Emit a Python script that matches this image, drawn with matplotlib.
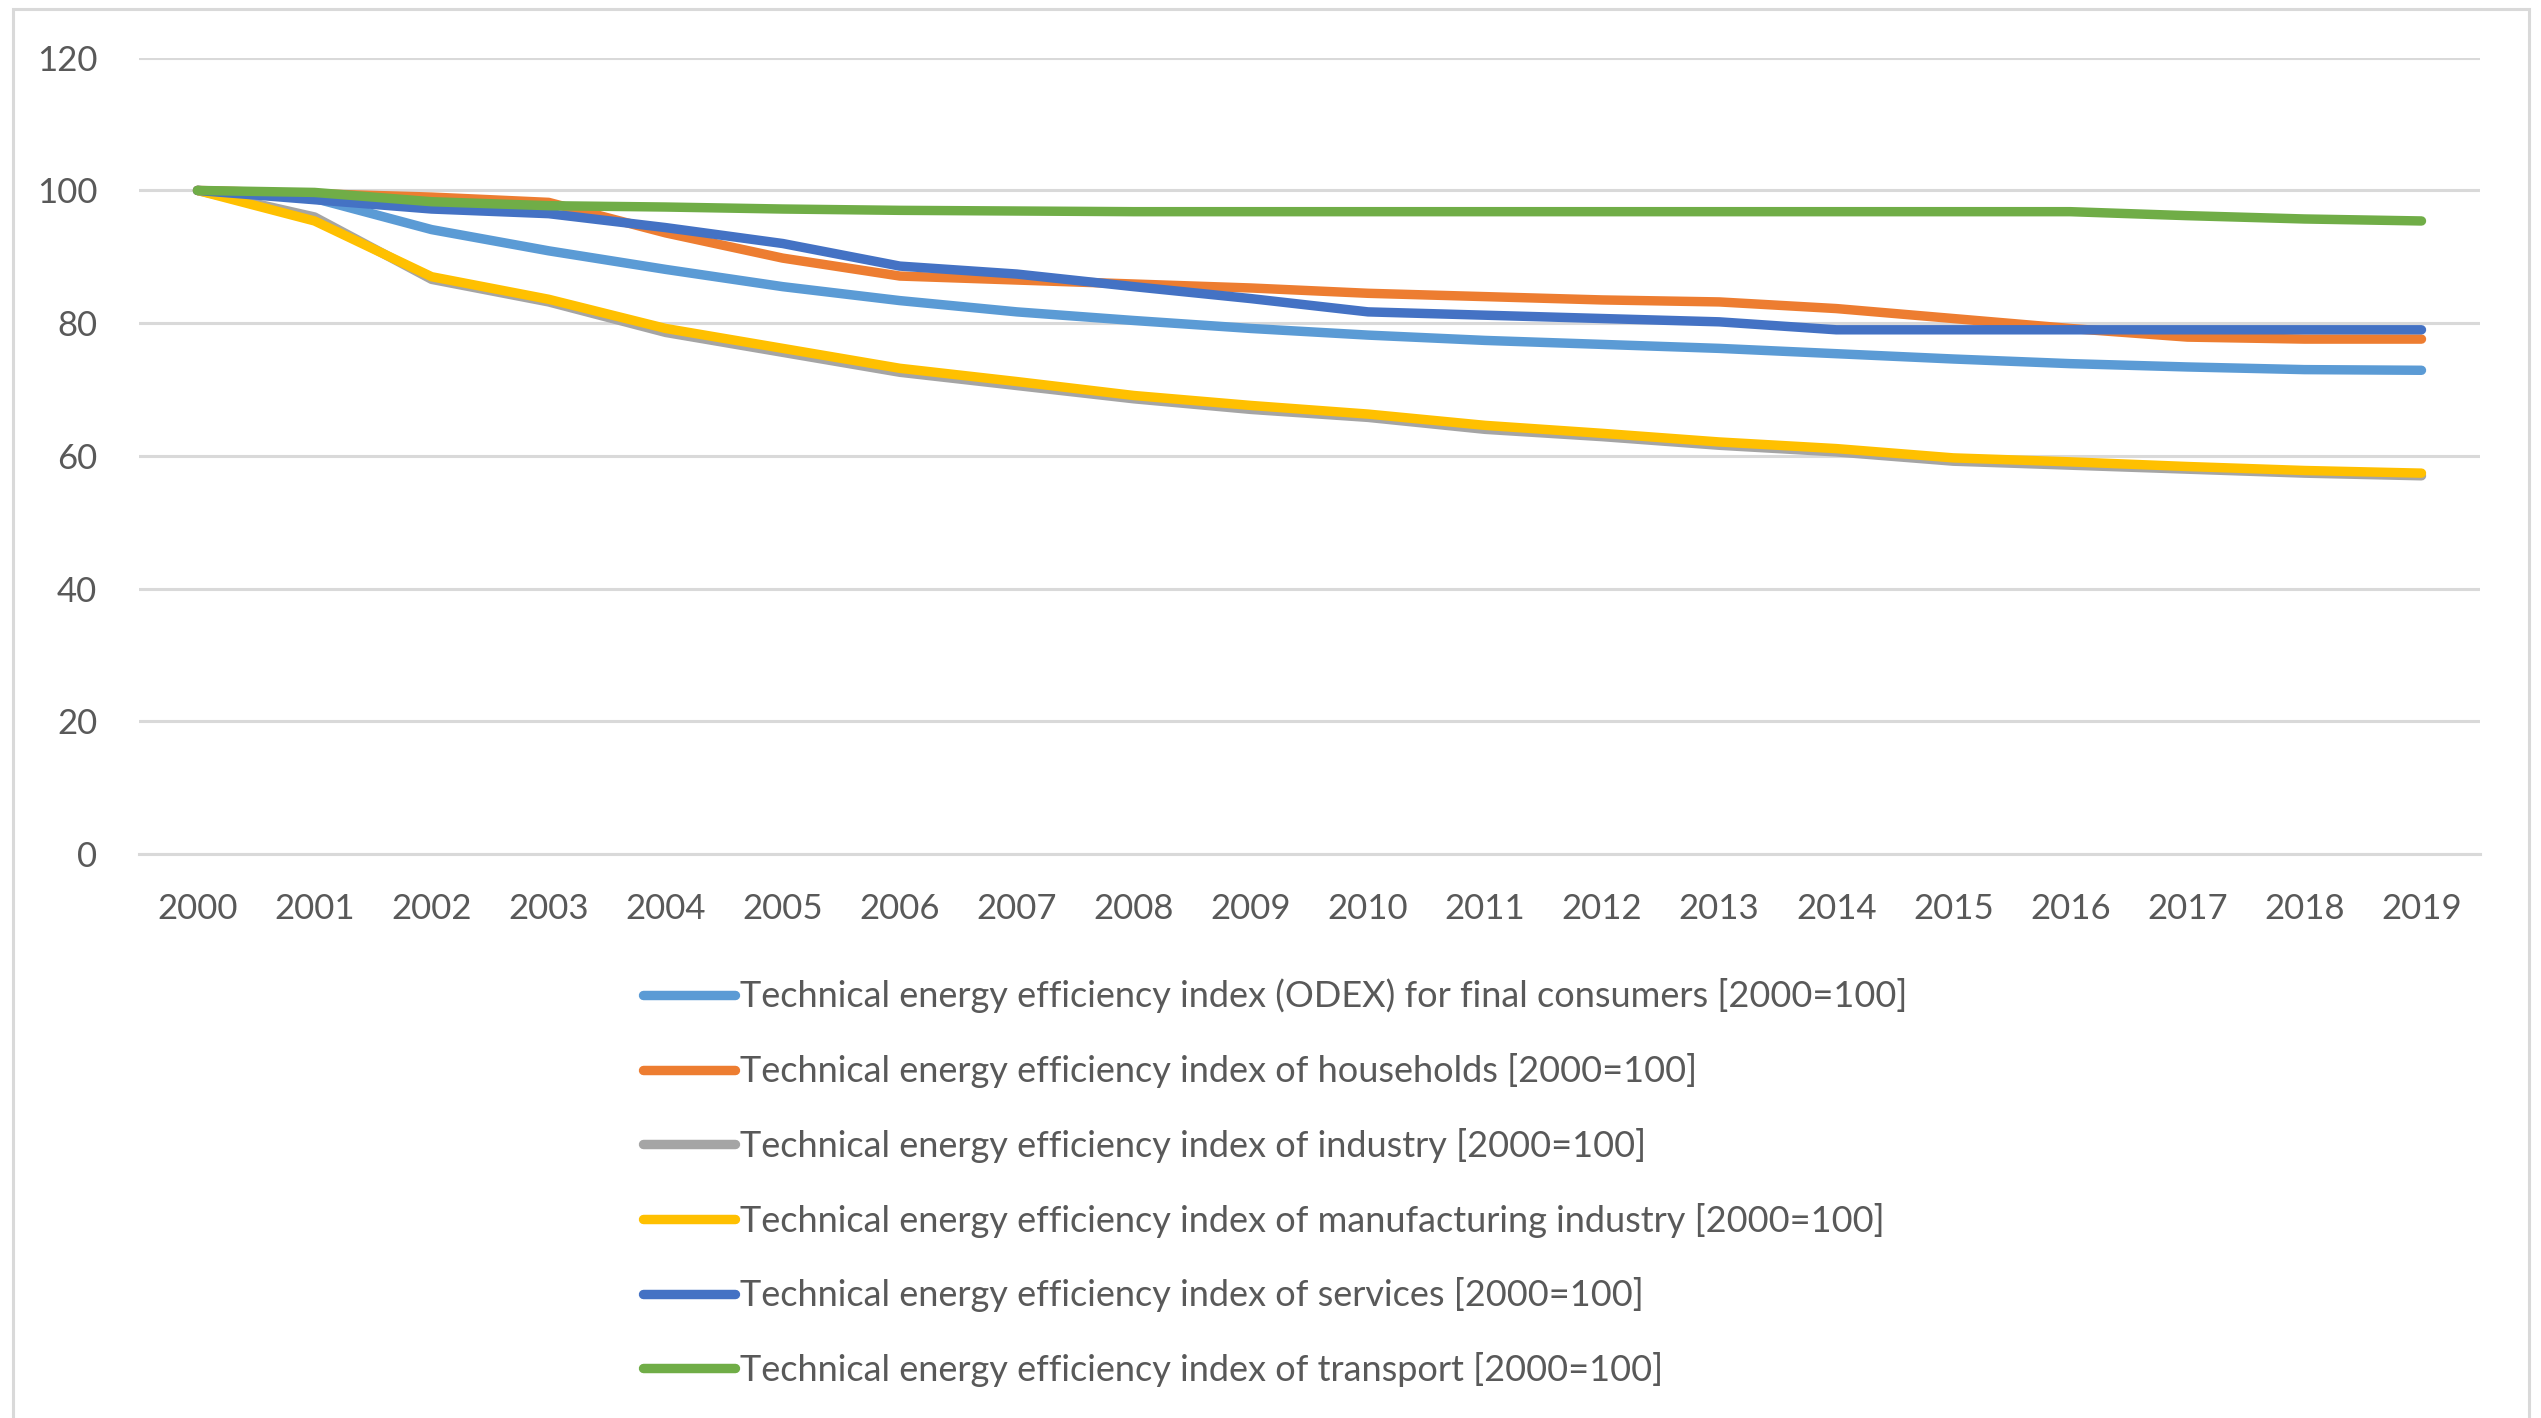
import matplotlib.pyplot as plt
from matplotlib.patches import Rectangle

years = list(range(2000, 2020))

odex = [100, 98.8, 94.1, 90.9, 88.1, 85.5, 83.4, 81.7, 80.4, 79.2,
        78.2, 77.4, 76.8, 76.2, 75.4, 74.6, 73.9, 73.4, 73.0, 72.9]
households = [100, 99.5, 99.0, 98.2, 93.6, 89.8, 87.1, 86.5, 85.9, 85.3,
              84.5, 84.0, 83.5, 83.2, 82.2, 80.7, 79.2, 77.9, 77.6, 77.6]
industry = [100, 96.0, 86.6, 83.2, 78.6, 75.6, 72.6, 70.6, 68.6, 67.0,
            65.8, 64.0, 62.9, 61.6, 60.6, 59.2, 58.6, 58.0, 57.4, 57.0]
manufacturing = [100, 95.4, 87.0, 83.6, 79.2, 76.2, 73.2, 71.2, 69.1, 67.6,
                 66.3, 64.6, 63.4, 62.1, 61.1, 59.7, 59.1, 58.4, 57.8, 57.4]
services = [100, 98.6, 97.2, 96.5, 94.4, 92.0, 88.6, 87.4, 85.5, 83.7,
            81.7, 81.2, 80.7, 80.2, 79.0, 79.0, 79.0, 79.0, 79.0, 79.0]
transport = [100, 99.7, 98.3, 97.7, 97.5, 97.2, 97.0, 96.9, 96.8, 96.8,
             96.8, 96.8, 96.8, 96.8, 96.8, 96.8, 96.8, 96.2, 95.7, 95.4]

series = [
    ("Technical energy efficiency index (ODEX) for final consumers [2000=100]", odex, "#5B9BD5"),
    ("Technical energy efficiency index of households [2000=100]", households, "#ED7D31"),
    ("Technical energy efficiency index of industry [2000=100]", industry, "#A5A5A5"),
    ("Technical energy efficiency index of manufacturing industry [2000=100]", manufacturing, "#FFC000"),
    ("Technical energy efficiency index of services [2000=100]", services, "#4472C4"),
    ("Technical energy efficiency index of transport [2000=100]", transport, "#70AD47"),
]

plt.rcParams['font.family'] = ['Lato', 'DejaVu Sans']
text_color = '#595959'
grid_color = '#D9D9D9'

fig = plt.figure(figsize=(25.41, 14.18), dpi=100)
ax = fig.add_axes([0.0547, 0.3977, 0.9213, 0.5616])

x = list(range(len(years)))
for label, values, color in series:
    ax.plot(x, values, color=color, linewidth=6.8, label=label,
            solid_capstyle='round', solid_joinstyle='round')

ax.set_xlim(-0.5, len(years) - 0.5)
ax.set_ylim(0, 120)
ax.set_yticks(range(0, 121, 20))
ax.set_xticks(x)
ax.set_xticklabels([str(y) for y in years])
ax.tick_params(axis='both', length=0, labelsize=25, labelcolor=text_color)
ax.tick_params(axis='y', pad=30)
ax.tick_params(axis='x', pad=28)

ax.grid(axis='y', color=grid_color, linewidth=2.2)
ax.set_axisbelow(True)
for side in ['left', 'right', 'top']:
    ax.spines[side].set_visible(False)
ax.spines['bottom'].set_color(grid_color)
ax.spines['bottom'].set_linewidth(2.2)

# light outer chart border, open at the bottom edge
fig.patches.append(Rectangle((13 / 2541, -0.05), (2529 - 13) / 2541, 1 - 9 / 1418 + 0.05,
                             transform=fig.transFigure, fill=False,
                             edgecolor=grid_color, linewidth=2.2))

leg = fig.legend(loc='upper left', bbox_to_anchor=(0.253, 0.310), frameon=False,
                 fontsize=26, handlelength=2.55, handletextpad=0.15,
                 labelspacing=1.10, borderpad=0, borderaxespad=0)
for t in leg.get_texts():
    t.set_color(text_color)

fig.savefig('out.png', dpi=100)
